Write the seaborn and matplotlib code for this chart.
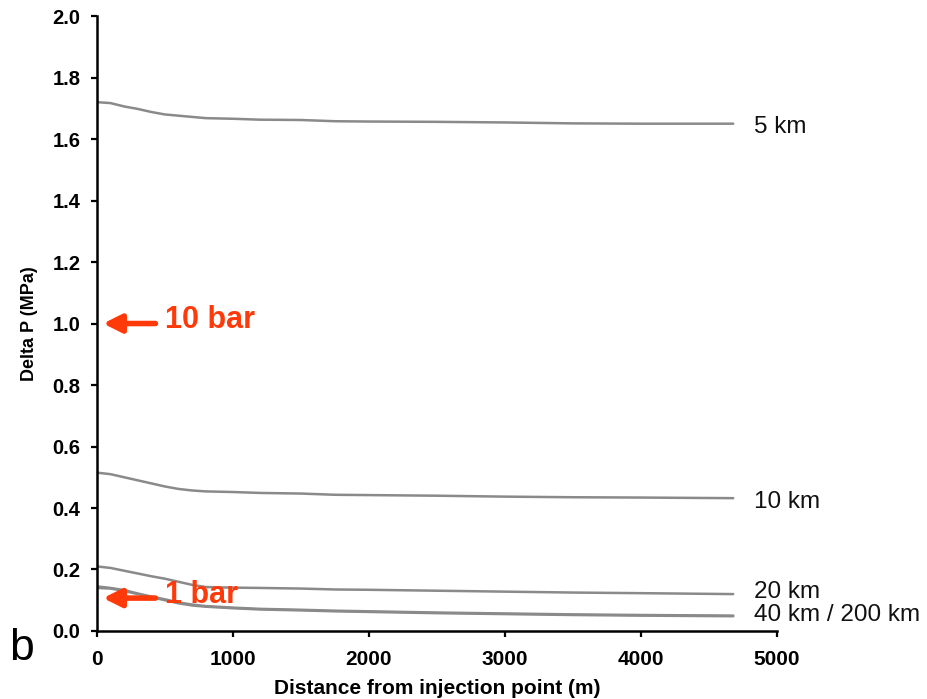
import matplotlib
matplotlib.use("Agg")
import matplotlib.pyplot as plt
import seaborn as sns
import pandas as pd

# Distance from the injection point (m)
distance = [0, 100, 200, 300, 400, 500, 600, 700, 800, 1000, 1200, 1500,
            1750, 2000, 2500, 3000, 3500, 4000, 4680]

# Pressure change (MPa) for each reservoir extent
dp_5km = [1.720, 1.717, 1.706, 1.698, 1.688, 1.680, 1.676, 1.672, 1.668, 1.666,
          1.663, 1.662, 1.658, 1.657, 1.656, 1.654, 1.651, 1.650, 1.650]
dp_10km = [0.515, 0.510, 0.500, 0.490, 0.480, 0.470, 0.462, 0.457, 0.454, 0.452,
           0.449, 0.447, 0.443, 0.442, 0.440, 0.437, 0.435, 0.434, 0.432]
dp_20km = [0.210, 0.205, 0.196, 0.187, 0.178, 0.170, 0.160, 0.150, 0.143, 0.141,
           0.140, 0.138, 0.135, 0.134, 0.131, 0.128, 0.125, 0.123, 0.120]
dp_40km = [0.140, 0.138, 0.130, 0.120, 0.110, 0.100, 0.090, 0.083, 0.079, 0.074,
           0.070, 0.067, 0.064, 0.062, 0.058, 0.055, 0.052, 0.050, 0.048]
dp_200km = [0.145, 0.140, 0.133, 0.122, 0.112, 0.103, 0.093, 0.086, 0.081, 0.076,
            0.072, 0.069, 0.066, 0.064, 0.060, 0.057, 0.054, 0.052, 0.050]

series_names = ["5 km", "10 km", "20 km", "40 km", "200 km"]
series_values = [dp_5km, dp_10km, dp_20km, dp_40km, dp_200km]

# Curve end labels: text and the value they sit at
end_labels = ["5 km", "10 km", "20 km", "40 km / 200 km"]
end_label_y = [1.64, 0.42, 0.127, 0.052]

# Reference pressure markers
marker_texts = ["10 bar", "1 bar"]
marker_values = [1.0, 0.107]

x_ticks = [0, 1000, 2000, 3000, 4000, 5000]
y_ticks = [0.0, 0.2, 0.4, 0.6, 0.8, 1.0, 1.2, 1.4, 1.6, 1.8, 2.0]

frames = [pd.DataFrame({"distance": distance, "dp": v, "extent": n})
          for n, v in zip(series_names, series_values)]
df = pd.concat(frames, ignore_index=True)

sns.set_theme(style="ticks")
plt.rcParams["font.family"] = ["Liberation Sans", "DejaVu Sans"]
plt.rcParams["text.color"] = "black"
plt.rcParams["axes.labelcolor"] = "black"
plt.rcParams["xtick.color"] = "black"
plt.rcParams["ytick.color"] = "black"

fig = plt.figure(figsize=(9.28, 6.99), dpi=100)
ax = fig.add_axes([0.1045, 0.0973, 0.7325, 0.8797])

sns.lineplot(data=df, x="distance", y="dp", units="extent", estimator=None,
             color="#8a8a8a", linewidth=1.8, ax=ax, legend=False)

ax.set_xlim(0, 5000)
ax.set_ylim(0, 2.0)
ax.set_xticks(x_ticks)
ax.set_yticks(y_ticks)
ax.set_xticklabels([str(t) for t in x_ticks], fontsize=15, fontweight="bold")
ax.set_yticklabels([f"{t:.1f}" for t in y_ticks], fontsize=14.5, fontweight="bold")
ax.tick_params(axis="x", direction="out", length=4, width=1.6, pad=10)
ax.tick_params(axis="y", direction="out", length=4, width=1.6, pad=8)
for side in ("left", "bottom"):
    ax.spines[side].set_linewidth(1.8)
    ax.spines[side].set_color("black")
sns.despine(ax=ax)

ax.set_xlabel("Distance from injection point (m)", fontsize=15, fontweight="bold",
              labelpad=7)
ax.set_ylabel("Delta P (MPa)", fontsize=13, fontweight="bold", labelpad=10)

for txt, yv in zip(end_labels, end_label_y):
    ax.text(4830, yv, txt, fontsize=17.5, va="center", ha="left", color="#111111",
            clip_on=False)

red = "#ff3a0a"
for txt, yv in zip(marker_texts, marker_values):
    ax.annotate("", xy=(45, yv), xytext=(430, yv),
                arrowprops=dict(arrowstyle="-|>,head_length=0.9,head_width=0.45",
                                color=red, lw=4, shrinkA=0, shrinkB=0))
    ax.text(500, yv + 0.01, txt, fontsize=22, fontweight="bold", color=red,
            va="center", ha="left")

fig.text(0.010, 0.072, "b", fontsize=32, va="center", ha="left")

fig.savefig("out.png", dpi=100)
